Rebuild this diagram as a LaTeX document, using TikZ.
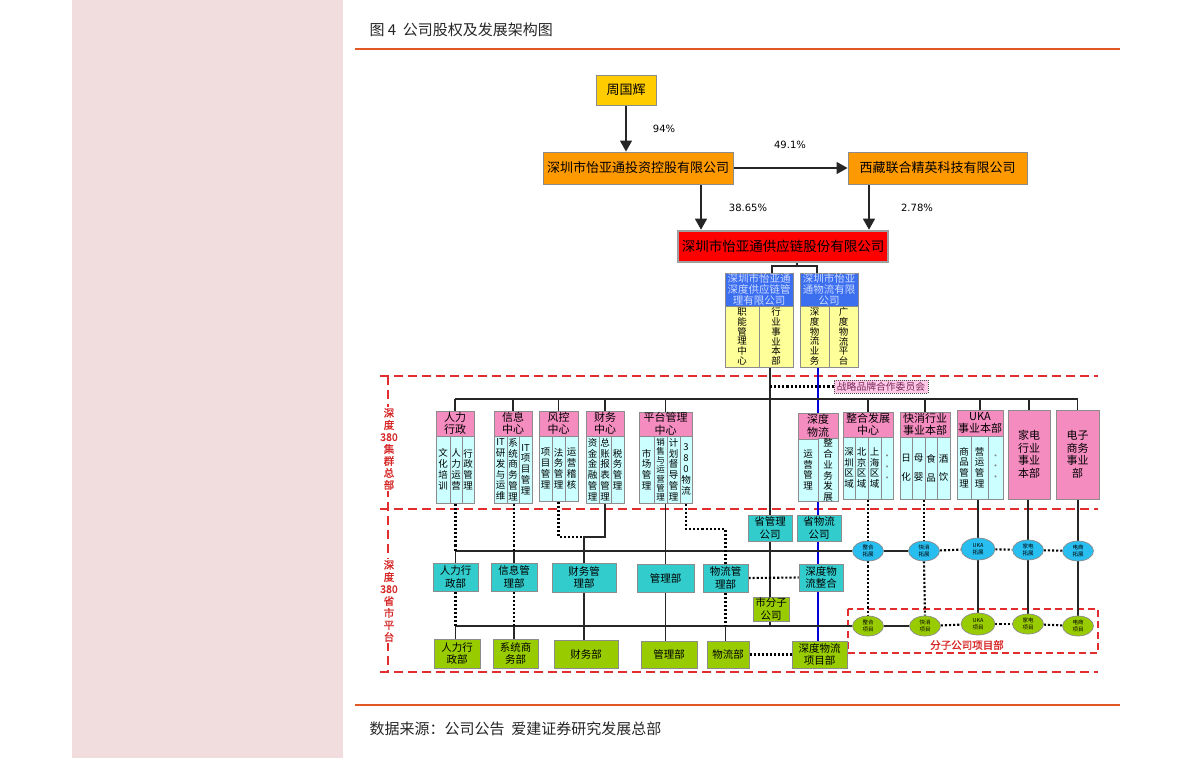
\documentclass[tikz,border=0pt]{standalone}
\usepackage{fontspec}
\setmainfont{Noto Sans CJK SC}
\newfontfamily\cjkb[FakeBold=1.5]{Noto Sans CJK SC}
\newfontfamily\latf{DejaVu Sans}
\usetikzlibrary{arrows.meta,backgrounds,shapes.geometric}
\definecolor{cstrip}{RGB}{242,221,222}
\definecolor{crule}{RGB}{226,88,34}
\definecolor{cbord}{RGB}{140,140,140}
\definecolor{cgold}{RGB}{255,204,0}
\definecolor{corange}{RGB}{255,153,0}
\definecolor{cred}{RGB}{255,0,0}
\definecolor{cblue}{RGB}{60,110,240}
\definecolor{cbluetext}{RGB}{205,220,255}
\definecolor{cyel}{RGB}{255,255,153}
\definecolor{cpinkh}{RGB}{245,140,192}
\definecolor{ccyan}{RGB}{204,255,255}
\definecolor{cteal}{RGB}{51,204,204}
\definecolor{cgreen}{RGB}{153,204,0}
\definecolor{cell}{RGB}{40,190,240}
\definecolor{cdash}{RGB}{225,45,45}
\definecolor{cdashtext}{RGB}{215,40,40}
\definecolor{cwy}{RGB}{255,200,230}
\definecolor{cwytext}{RGB}{120,40,90}
\newcommand\RB[7]{\node[#2,minimum width={(#5-#3)*1pt},minimum height={(#6-#4)*1pt}] (#1) at ({(#3+#5)/2},{(#4+#6)/2}) {#7};}
\tikzset{
 bx/.style={draw=cbord, line width=0.9pt, inner sep=0pt, align=center},
 goldb/.style={bx, fill=cgold, font=\fontsize{13}{15}\selectfont},
 orngb/.style={bx, fill=corange, font=\fontsize{13}{15}\selectfont},
 redb/.style={bx, fill=cred, draw=gray!75, line width=2.6pt, font=\fontsize{13.5}{15}\selectfont},
 blueb/.style={bx, fill=cblue, text=cbluetext, font=\fontsize{10.5}{11}\selectfont},
 yelb/.style={bx, fill=cyel, font=\fontsize{9.5}{9.8}\selectfont},
 pinkh/.style={bx, fill=cpinkh, font=\fontsize{11}{12.5}\selectfont},
 cysub/.style={bx, fill=ccyan, font=\fontsize{9.5}{10.8}\selectfont},
 cysubs/.style={cysub, font=\fontsize{8.5}{9.2}\selectfont},
 cydots/.style={cysub, text=gray},
 tealb/.style={bx, fill=cteal, font=\fontsize{10.5}{12.5}\selectfont},
 grnb/.style={bx, fill=cgreen, font=\fontsize{10.5}{12.5}\selectfont},
 wyb/.style={draw=black!70, line width=0.9pt, dash pattern=on 1pt off 1pt, fill=cwy, inner sep=0pt, text=cwytext, font=\fontsize{9.8}{11}\selectfont},
 ellc/.style={ellipse, draw=cbord, line width=0.7pt, fill=cell, inner sep=0pt, minimum width=31pt, minimum height=20pt, align=center, font=\fontsize{5.5}{6.5}\selectfont},
 ellcb/.style={ellc, minimum width=34pt, minimum height=22pt},
 ellg/.style={ellc, fill=cgreen},
 ellgb/.style={ellcb, fill=cgreen},
 conn/.style={draw=black!85, line width=1.3pt},
 dotl/.style={draw=black, line width=2.1pt, dash pattern=on 2.1pt off 2pt},
 arr/.style={conn, -{Triangle[length=11pt,width=12pt]}},
 blueln/.style={draw=blue!85!black, line width=1.5pt},
 rdash/.style={draw=cdash, line width=2.6pt, dash pattern=on 9pt off 5pt},
 rdashb/.style={draw=cdash, line width=2pt, dash pattern=on 7pt off 4pt},
 pct/.style={font=\latf\fontsize{10}{12}\selectfont},
 sidel/.style={fill=white, inner sep=1.5pt, align=center, text=cdashtext, font=\cjkb\fontsize{10.5}{12}\selectfont},
 rule/.style={draw=crule, line width=2.4pt},
}
\begin{document}
\begin{tikzpicture}[x=1pt,y=-1pt]
\useasboundingbox (0,0) rectangle (1191,758);

% ---- texts ----
\node[anchor=west, text=black!85, font=\fontsize{15}{18}\selectfont] (title) at (366,30) {图 4\ \ 公司股权及发展架构图};
\node[anchor=west, text=black!85, font=\fontsize{15}{18}\selectfont] (src) at (366,729) {数据来源：公司公告\ \ 爱建证券研究发展总部};

% ---- top ownership ----
\RB{zhou}{goldb}{596}{75}{656}{105}{周国辉}
\RB{tz}{orngb}{543}{152}{733}{184}{深圳市怡亚通投资控股有限公司}
\RB{xz}{orngb}{848}{152}{1027}{184}{西藏联合精英科技有限公司}
\RB{yat}{redb}{678}{231}{888}{262}{深圳市怡亚通供应链股份有限公司}
\node[pct] (p94) at (664,129) {94\%};
\node[pct] (p491) at (790,145) {49.1\%};
\node[pct] (p3865) at (748,208) {38.65\%};
\node[pct] (p278) at (917,208) {2.78\%};

\RB{sc}{blueb}{725}{273}{793}{306}{深圳市怡亚通\\深度供应链管\\理有限公司}
\RB{wl}{blueb}{800}{273}{858}{306}{深圳市怡亚\\通物流有限\\公司}
\RB{y1}{yelb}{725}{306}{759}{367}{职\\能\\管\\理\\中\\心}
\RB{y2}{yelb}{759}{306}{793}{367}{行\\业\\事\\业\\本\\部}
\RB{y3}{yelb}{800}{306}{829}{367}{深\\度\\物\\流\\业\\务}
\RB{y4}{yelb}{829}{306}{858}{367}{广\\度\\物\\流\\平\\台}

% ---- side labels ----
\node[sidel] (lab1) at (389,449) {深\\度\\380\\集\\群\\总\\部};
\node[sidel] (lab2) at (389,601) {深\\度\\380\\省\\市\\平\\台};

\RB{wy}{wyb}{834}{380}{928}{393}{战略品牌合作委员会}

% ---- group headquarters departments ----
\RB{hr}{pinkh}{436}{411}{474}{436}{人力\\行政}
\RB{hrs1}{cysub}{436}{436}{450}{503}{文\\化\\培\\训}
\RB{hrs2}{cysub}{450}{436}{462}{503}{人\\力\\运\\营}
\RB{hrs3}{cysub}{462}{436}{474}{503}{行\\政\\管\\理}

\RB{xi}{pinkh}{494}{411}{532}{436}{信息\\中心}
\RB{xis1}{cysub}{494}{436}{507}{503}{IT\\研\\发\\与\\运\\维}
\RB{xis2}{cysub}{507}{436}{519}{503}{系\\统\\商\\务\\管\\理}
\RB{xis3}{cysub}{519}{436}{532}{503}{IT\\项\\目\\管\\理}

\RB{fk}{pinkh}{539}{411}{578}{436}{风控\\中心}
\RB{fks1}{cysub}{539}{436}{552}{501}{项\\目\\管\\理}
\RB{fks2}{cysub}{552}{436}{565}{501}{法\\务\\管\\理}
\RB{fks3}{cysub}{565}{436}{578}{501}{运\\营\\稽\\核}

\RB{cw}{pinkh}{586}{411}{624}{436}{财务\\中心}
\RB{cws1}{cysub}{586}{436}{599}{503}{资\\金\\金\\融\\管\\理}
\RB{cws2}{cysub}{599}{436}{611}{503}{总\\账\\报\\表\\管\\理}
\RB{cws3}{cysub}{611}{436}{624}{503}{税\\务\\管\\理}

\RB{pt}{pinkh}{639}{412}{692}{436}{平台管理\\中心}
\RB{pts1}{cysub}{639}{436}{654}{503}{市\\场\\管\\理}
\RB{pts2}{cysubs}{654}{436}{667}{503}{销\\售\\与\\运\\营\\管\\理}
\RB{pts3}{cysub}{667}{436}{680}{503}{计\\划\\督\\导\\管\\理}
\RB{pts4}{cysub}{680}{436}{692}{503}{3\\8\\0\\物\\流}

\RB{sd}{pinkh}{798}{413}{838}{439}{深度\\物流}
\RB{sds1}{cysub}{798}{439}{818}{501}{运\\营\\管\\理}
\RB{sds2}{cysub}{818}{439}{838}{501}{整\\合\\业\\务\\发\\展}

\RB{zh}{pinkh}{843}{412}{893}{437}{整合发展\\中心}
\RB{zhs1}{cysub}{843}{437}{855}{499}{深\\圳\\区\\域}
\RB{zhs2}{cysub}{855}{437}{868}{499}{北\\京\\区\\域}
\RB{zhs3}{cysub}{868}{437}{881}{499}{上\\海\\区\\域}
\RB{zhs4}{cydots}{881}{437}{893}{499}{·\\·\\·}

\RB{kx}{pinkh}{900}{412}{950}{437}{快消行业\\事业本部}
\RB{kxs1}{cysub}{900}{437}{912}{499}{日\\[8pt]化}
\RB{kxs2}{cysub}{912}{437}{925}{499}{母\\[8pt]婴}
\RB{kxs3}{cysub}{925}{437}{937}{499}{食\\[8pt]品}
\RB{kxs4}{cysub}{937}{437}{950}{499}{酒\\[8pt]饮}

\RB{uk}{pinkh}{957}{410}{1003}{436}{UKA\\事业本部}
\RB{uks1}{cysub}{957}{436}{971}{499}{商\\品\\管\\理}
\RB{uks2}{cysub}{971}{436}{988}{499}{营\\运\\管\\理}
\RB{uks3}{cydots}{988}{436}{1003}{499}{·\\·\\·}

\RB{jd}{pinkh}{1008}{410}{1050}{499}{家电\\行业\\事业\\本部}
\RB{ds}{pinkh}{1056}{410}{1099}{499}{电子\\商务\\事业\\部}

% ---- provincial platform ----
\RB{sgl}{tealb}{748}{515}{792}{541}{省管理\\公司}
\RB{swl}{tealb}{797}{515}{841}{541}{省物流\\公司}
\RB{mhr}{tealb}{433}{563}{478}{591}{人力行\\政部}
\RB{mxi}{tealb}{491}{563}{537}{591}{信息管\\理部}
\RB{mcw}{tealb}{552}{563}{616}{592}{财务管\\理部}
\RB{mgl}{tealb}{637}{564}{694}{592}{管理部}
\RB{mwl}{tealb}{703}{564}{748}{592}{物流管\\理部}
\RB{sdzh}{tealb}{799}{564}{843}{591}{深度物\\流整合}
\RB{sfz}{grnb}{753}{597}{789}{621}{市分子\\公司}

\RB{bhr}{grnb}{434}{639}{480}{668}{人力行\\政部}
\RB{bxi}{grnb}{493}{639}{538}{668}{系统商\\务部}
\RB{bcw}{grnb}{554}{640}{618}{668}{财务部}
\RB{bgl}{grnb}{641}{641}{697}{668}{管理部}
\RB{bwl}{grnb}{707}{641}{749}{668}{物流部}
\RB{sdxm}{grnb}{792}{641}{847}{668}{深度物流\\项目部}

\node[ellc] (et1) at (868,551) {整合\\拓展};
\node[ellc] (et2) at (924,551) {快消\\拓展};
\node[ellcb] (et3) at (978,549) {UKA\\拓展};
\node[ellc] (et4) at (1028,550) {家电\\拓展};
\node[ellc] (et5) at (1078,551) {电商\\拓展};
\node[ellg] (gt1) at (868,626) {整合\\项目};
\node[ellg] (gt2) at (925,626) {快消\\项目};
\node[ellgb] (gt3) at (978,624) {UKA\\项目};
\node[ellg] (gt4) at (1028,624) {家电\\项目};
\node[ellg] (gt5) at (1078,626) {电商\\项目};

\node[text=cdashtext, font=\cjkb\fontsize{10.5}{12}\selectfont] (fzlab) at (967,645) {分子公司项目部};

% ---- coordinates ----
\coordinate (a1) at (701,0);
\coordinate (a2) at (869,0);
\coordinate (j0) at (797,266);
\coordinate (j1) at (772,266);
\coordinate (j2) at (817,266);
\coordinate (bk) at (770,0);
\coordinate (bl) at (818,0);
\coordinate (h1) at (0,399);
\coordinate (h2) at (0,551);
\coordinate (h3) at (0,626);
\coordinate (k1) at (0,537);
\coordinate (k2) at (0,529);

\begin{pgfonlayer}{background}
\fill[cstrip] (72,0) rectangle (343,758);
\draw[rule] (355,49) -- (1120,49);
\draw[rule] (355,705) -- (1120,705);
% red dashed frames
\draw[rdash] (380,376) -- (1098,376);
\draw[rdash] (380,509) -- (1098,509);
\draw[rdash] (380,672) -- (1098,672);
\draw[rdash] (388,376) -- (388,672);
\draw[rdashb] (848,609) rectangle (1098,653);

% ownership arrows
\draw[arr] (zhou.south) -- (zhou.south |- tz.north);
\draw[arr] (tz.east) -- (xz.west);
\draw[arr] (tz.south -| a1) -- (yat.north -| a1);
\draw[arr] (xz.south -| a2) -- (yat.north -| a2);
\draw[conn] (yat.south -| j0) -- (j0);
\draw[conn] (j1 |- sc.north) -- (j1) -- (j2) -- (j2 |- wl.north);

% main verticals
\draw[conn] (y2.south -| bk) -- (bk |- h3);
\draw[blueln] (y3.south -| bl) -- (bl |- sdxm.north);
\draw[dotl] (bk |- wy.west) -- (wy.west);

% level 1 bus
\draw[conn] (hr.north |- h1) -- (ds.north |- h1);
\foreach \n in {hr,xi,fk,cw,pt,zh,kx,uk,jd,ds} {\draw[conn] (\n.north) -- (\n.north |- h1);}

% level 2 / 3 buses
\draw[conn] (mhr.north |- h2) -- (et1.west);
\draw[conn] (mhr.south |- h3) -- (gt1.west);
\draw[conn] (et1) -- (et2);
\draw[dotl] (et2) -- (et3);
\draw[dotl] (et3) -- (et4);
\draw[dotl] (et4) -- (et5);
\draw[conn] (gt1) -- (gt2);
\draw[dotl] (gt2) -- (gt3);
\draw[dotl] (gt3) -- (gt4);
\draw[dotl] (gt4) -- (gt5);

% left columns
\draw[dotl] (mhr.north |- hrs2.south) -- (mhr.north |- h2);
\draw[conn] (mhr.north |- h2) -- (mhr.north);
\draw[dotl] (mhr.south) -- (mhr.south |- h3);
\draw[conn] (mhr.south |- h3) -- (mhr.south |- bhr.north);

\draw[dotl] (mxi.north |- xis2.south) -- (mxi.north |- h2);
\draw[conn] (mxi.north |- h2) -- (mxi.north);
\draw[dotl] (mxi.south) -- (mxi.south |- h3);
\draw[conn] (mxi.south |- h3) -- (mxi.south |- bxi.north);

\draw[dotl] (fks2.south) -- (fks2.south |- k1) -- (mcw.north |- k1);
\draw[conn] (cws2.south) -- (cws2.south |- k1) -- (mcw.north |- k1) -- (mcw.north);
\draw[conn] (mcw.south) -- (mcw.south |- bcw.north);

\draw[conn] (mgl.north |- pts2.south) -- (mgl.north);
\draw[conn] (mgl.south) -- (mgl.south |- bgl.north);

\draw[dotl] (pts4.south) -- (pts4.south |- k2) -- (mwl.north |- k2) -- (mwl.north);
\draw[dotl] (mwl.south) -- (mwl.south |- h3);
\draw[conn] (mwl.south |- h3) -- (mwl.south |- bwl.north);
\draw[dotl] (mwl.east) -- (sdzh.west);
\draw[dotl] (bwl.east) -- (sdxm.west);

% right columns
\draw[dotl] (et1.north |- zhs1.south) -- (et1.north);
\draw[dotl] (et1.south) -- (gt1.north);
\draw[dotl] (et2.north |- kxs1.south) -- (et2.north);
\draw[dotl] (et2.south) -- (gt2.north);
\draw[conn] (et3.north |- uks2.south) -- (et3.north);
\draw[conn] (et3.south) -- (gt3.north);
\draw[conn] (et4.north |- jd.south) -- (et4.north);
\draw[conn] (et4.south) -- (gt4.north);
\draw[conn] (et5.north |- ds.south) -- (et5.north);
\draw[conn] (et5.south) -- (gt5.north);
\end{pgfonlayer}
\end{tikzpicture}
\end{document}
